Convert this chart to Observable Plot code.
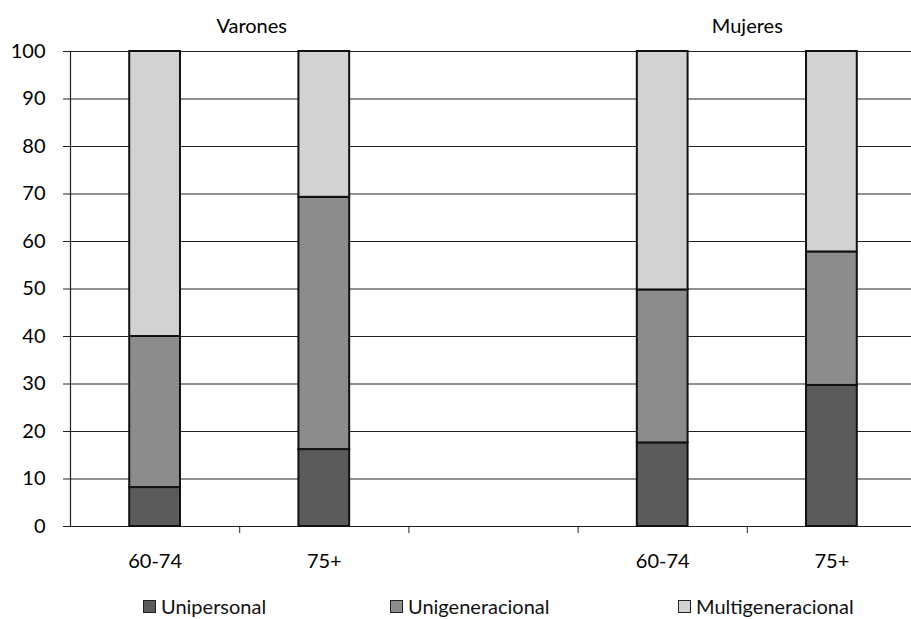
<!DOCTYPE html>
<html lang="es">
<head>
<meta charset="utf-8">
<script src="https://cdn.jsdelivr.net/npm/d3@7"></script>
<script src="https://cdn.jsdelivr.net/npm/@observablehq/plot@0.6"></script>
<style>
  html, body { margin: 0; padding: 0; background: #fff; }
  body { width: 911px; height: 619px; position: relative; font-family: Lato, "Open Sans", sans-serif; color: #111; }
  #chart svg { font-size: 20px; }
  #legend { position: relative; height: 39px; }
  .item { position: absolute; top: 14px; display: flex; align-items: center; font-size: 20px; line-height: 24px; }
  .swatch { width: 11px; height: 11px; border: 1px solid #222; margin-right: 5px; box-sizing: content-box; }
</style>
</head>
<body>
<div id="chart"></div>
<div id="legend"></div>
<script>
// Distribution of households by type, by sex and age group (percent)
const sexes = ["Varones", "Varones", "Mujeres", "Mujeres"];
const ages = ["60-74", "75+", "60-74", "75+"];
const unipersonal = [8.2, 16.2, 17.6, 29.7];
const unigeneracional = [31.8, 53.1, 32.2, 28.1];
const multigeneracional = [60.0, 30.7, 50.2, 42.2];
const types = ["Unipersonal", "Unigeneracional", "Multigeneracional"];
const typeColors = ["#5b5b5b", "#8c8c8c", "#d2d2d2"];
const groups = ["Varones", "Mujeres"];
const yTicks = [0, 10, 20, 30, 40, 50, 60, 70, 80, 90, 100];

// Category slots along x: the two sexes, separated by an empty slot
const slotKeys = ["Varones|60-74", "Varones|75+", "", "Mujeres|60-74", "Mujeres|75+"];
const slotOf = (sex, age) => slotKeys.indexOf(sex + "|" + age);
const barHalf = 0.15;

const seriesValues = [unipersonal, unigeneracional, multigeneracional];
const rows = [];
sexes.forEach((sex, i) => {
  let base = 0;
  types.forEach((type, t) => {
    const v = seriesValues[t][i];
    rows.push({sex, age: ages[i], type, slot: slotOf(sex, ages[i]), y1: base, y2: base + v});
    base += v;
  });
});

const barSlots = sexes.map((s, i) => slotOf(s, ages[i]));
const boundaries = slotKeys.slice(0, -1).map((_, k) => k + 0.5);
const groupSlot = g => d3.mean(sexes.map((s, i) => s === g ? slotOf(s, ages[i]) : null).filter(v => v !== null));
const groupLabels = groups.map(g => ({label: g, slot: groupSlot(g)}));

const plot = Plot.plot({
  width: 911,
  height: 580,
  marginTop: 51,
  marginBottom: 54,
  marginLeft: 70,
  marginRight: 0,
  style: {fontFamily: "Lato, 'Open Sans', sans-serif", color: "#111", background: "#fff"},
  x: {type: "linear", domain: [-0.5, slotKeys.length - 0.5], range: [70, 916], axis: null},
  y: {domain: [0, 100], axis: null},
  color: {domain: types, range: typeColors},
  marks: [
    Plot.ruleY(yTicks, {y: d => d, stroke: "#222", strokeWidth: 1.2}),
    Plot.axisY({ticks: yTicks, tickSize: 7, tickPadding: 18, stroke: "#222", fill: "#000", fontSize: 20, label: null}),
    Plot.ruleX([-0.5], {stroke: "#222", strokeWidth: 1.2}),
    Plot.axisX({ticks: boundaries, tickSize: 7, tickFormat: () => "", stroke: "#222", label: null}),
    Plot.axisX({ticks: barSlots, tickSize: 0, tickPadding: 27, fontSize: 20, fill: "#000",
      tickFormat: d => (slotKeys[d] || "").split("|")[1] || "", label: null}),
    Plot.rect(rows, {
      x1: d => d.slot - barHalf, x2: d => d.slot + barHalf,
      y1: "y1", y2: "y2", fill: "type", stroke: "#111", strokeWidth: 2
    }),
    // Group titles above the plot area
    Plot.text(groupLabels.filter(d => d.label === "Varones"), {
      x: "slot", text: "label", frameAnchor: "top", dy: -25, dx: 12,
      fontSize: 20, fill: "#000", lineAnchor: "middle"
    }),
    Plot.text(groupLabels.filter(d => d.label === "Mujeres"), {
      x: "slot", text: "label", frameAnchor: "top", dy: -25,
      fontSize: 20, fill: "#000", lineAnchor: "middle"
    })
  ]
});
document.getElementById("chart").append(plot);

// Legend below the chart
const legend = d3.select("#legend");
const legendLeft = [143, 390, 678];
types.forEach((t, i) => {
  const item = legend.append("div").attr("class", "item").style("left", legendLeft[i] + "px");
  item.append("div").attr("class", "swatch").style("background", typeColors[i]);
  item.append("span").text(t);
});
</script>
</body>
</html>
